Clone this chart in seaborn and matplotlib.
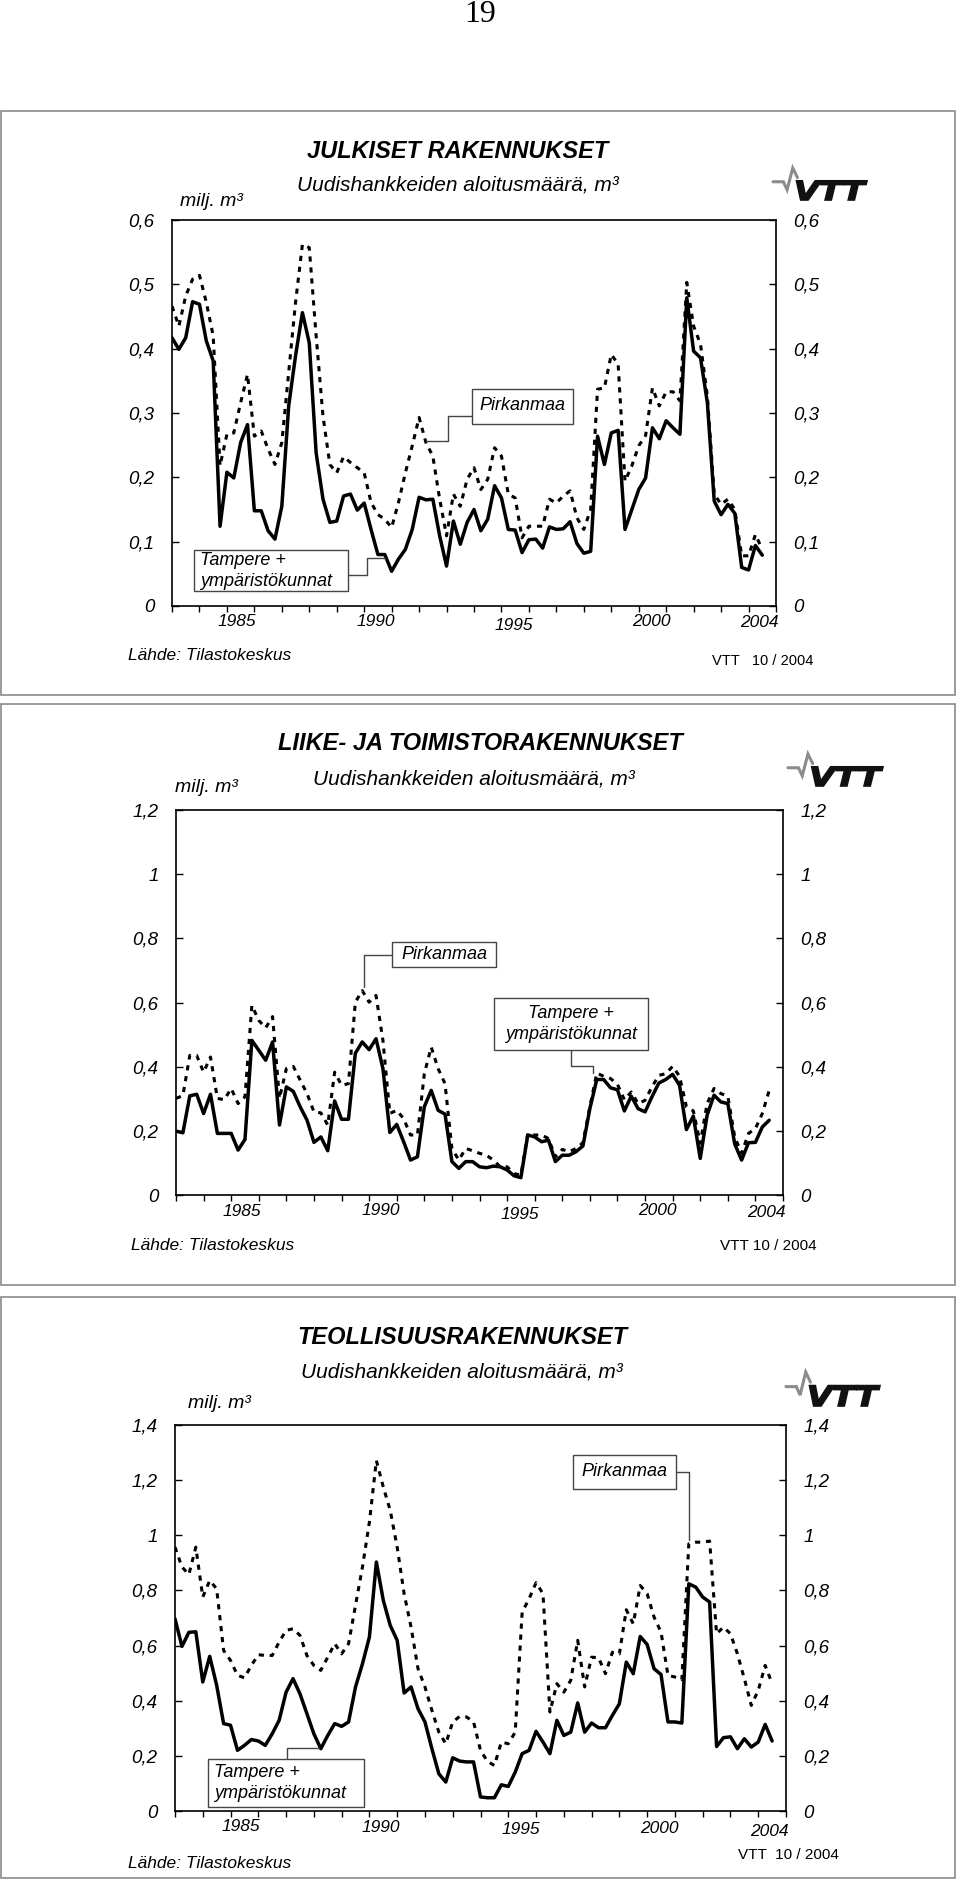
import numpy as np
import pandas as pd
import matplotlib
matplotlib.use('Agg')
import matplotlib.pyplot as plt
import seaborn as sns
from matplotlib.patches import Rectangle, PathPatch
from matplotlib.lines import Line2D
from matplotlib.textpath import TextPath
from matplotlib.font_manager import FontProperties
from matplotlib.transforms import Affine2D, ScaledTranslation

# quarterly starts, 1983 Q1 ... 2004 Q3, million m3 (4-quarter sums)
QUARTERS = list(range(87))
YEAR_LABELS = ['1985', '1990', '1995', '2000', '2004']
YEAR_LABEL_POS = [9.5, 29.7, 49.8, 69.8, 85.6]

julk_tampere = [0.417, 0.399, 0.417, 0.473, 0.469, 0.412, 0.381, 0.124, 0.208, 0.199,
                0.254, 0.282, 0.148, 0.148, 0.117, 0.104, 0.155, 0.311, 0.389, 0.456,
                0.409, 0.238, 0.166, 0.130, 0.132, 0.171, 0.174, 0.149, 0.160, 0.119,
                0.080, 0.080, 0.054, 0.073, 0.088, 0.119, 0.169, 0.165, 0.166, 0.109,
                0.062, 0.132, 0.096, 0.130, 0.150, 0.117, 0.135, 0.187, 0.168, 0.119,
                0.118, 0.083, 0.103, 0.104, 0.090, 0.123, 0.119, 0.120, 0.131, 0.097,
                0.082, 0.085, 0.264, 0.220, 0.269, 0.273, 0.119, 0.150, 0.181, 0.199,
                0.277, 0.260, 0.288, 0.277, 0.267, 0.479, 0.396, 0.386, 0.316, 0.163,
                0.142, 0.158, 0.144, 0.060, 0.056, 0.094, 0.079]
julk_pirkanmaa = [0.466, 0.435, 0.482, 0.508, 0.514, 0.472, 0.420, 0.218, 0.267, 0.269,
                  0.316, 0.360, 0.264, 0.272, 0.244, 0.220, 0.254, 0.363, 0.472, 0.562,
                  0.557, 0.420, 0.295, 0.220, 0.207, 0.232, 0.223, 0.215, 0.207, 0.161,
                  0.142, 0.135, 0.122, 0.161, 0.207, 0.249, 0.293, 0.254, 0.233, 0.166,
                  0.109, 0.174, 0.155, 0.197, 0.215, 0.181, 0.197, 0.246, 0.233, 0.174,
                  0.168, 0.106, 0.124, 0.124, 0.124, 0.166, 0.160, 0.171, 0.179, 0.137,
                  0.119, 0.150, 0.337, 0.339, 0.391, 0.376, 0.194, 0.218, 0.249, 0.265,
                  0.339, 0.311, 0.333, 0.333, 0.319, 0.503, 0.435, 0.407, 0.326, 0.174,
                  0.158, 0.166, 0.150, 0.078, 0.078, 0.111, 0.088]

liike_tampere = [0.199, 0.194, 0.309, 0.314, 0.254, 0.314, 0.192, 0.192, 0.192, 0.140,
                 0.173, 0.482, 0.451, 0.420, 0.477, 0.218, 0.337, 0.323, 0.275, 0.233,
                 0.164, 0.181, 0.138, 0.293, 0.236, 0.236, 0.442, 0.477, 0.453, 0.487,
                 0.394, 0.195, 0.220, 0.166, 0.109, 0.119, 0.275, 0.326, 0.264, 0.252,
                 0.104, 0.083, 0.104, 0.104, 0.088, 0.085, 0.090, 0.088, 0.078, 0.060,
                 0.054, 0.187, 0.181, 0.166, 0.171, 0.104, 0.124, 0.124, 0.135, 0.153,
                 0.269, 0.360, 0.360, 0.334, 0.328, 0.262, 0.308, 0.269, 0.259, 0.306,
                 0.349, 0.360, 0.376, 0.342, 0.204, 0.246, 0.114, 0.249, 0.311, 0.290,
                 0.285, 0.159, 0.109, 0.163, 0.164, 0.212, 0.233]
liike_pirkanmaa = [0.301, 0.310, 0.435, 0.435, 0.383, 0.430, 0.301, 0.297, 0.332, 0.285,
                   0.306, 0.591, 0.544, 0.521, 0.556, 0.301, 0.394, 0.401, 0.358, 0.316,
                   0.259, 0.256, 0.218, 0.383, 0.342, 0.347, 0.601, 0.637, 0.601, 0.622,
                   0.482, 0.254, 0.264, 0.238, 0.187, 0.187, 0.378, 0.461, 0.394, 0.347,
                   0.145, 0.109, 0.145, 0.138, 0.130, 0.124, 0.109, 0.088, 0.088, 0.067,
                   0.062, 0.192, 0.187, 0.187, 0.176, 0.119, 0.142, 0.135, 0.145, 0.163,
                   0.275, 0.380, 0.370, 0.363, 0.345, 0.297, 0.321, 0.285, 0.295, 0.337,
                   0.373, 0.378, 0.401, 0.370, 0.275, 0.262, 0.161, 0.285, 0.332, 0.316,
                   0.308, 0.181, 0.130, 0.192, 0.207, 0.254, 0.326]

teol_tampere = [0.697, 0.597, 0.648, 0.650, 0.468, 0.561, 0.456, 0.317, 0.311, 0.220,
                0.238, 0.259, 0.254, 0.238, 0.280, 0.329, 0.431, 0.480, 0.425, 0.353,
                0.280, 0.226, 0.274, 0.317, 0.307, 0.323, 0.450, 0.534, 0.631, 0.903,
                0.764, 0.673, 0.619, 0.428, 0.450, 0.371, 0.323, 0.226, 0.135, 0.105,
                0.193, 0.181, 0.178, 0.178, 0.051, 0.048, 0.048, 0.095, 0.089, 0.141,
                0.208, 0.220, 0.289, 0.250, 0.208, 0.329, 0.274, 0.286, 0.392, 0.286,
                0.319, 0.302, 0.302, 0.347, 0.389, 0.540, 0.498, 0.633, 0.604, 0.516,
                0.495, 0.323, 0.323, 0.319, 0.824, 0.812, 0.776, 0.758, 0.234, 0.266,
                0.269, 0.226, 0.262, 0.232, 0.250, 0.314, 0.254]
teol_pirkanmaa = [0.957, 0.885, 0.858, 0.957, 0.776, 0.836, 0.806, 0.582, 0.546, 0.492,
                  0.483, 0.528, 0.567, 0.564, 0.564, 0.613, 0.655, 0.661, 0.637, 0.564,
                  0.528, 0.510, 0.558, 0.607, 0.570, 0.607, 0.746, 0.885, 1.048, 1.271,
                  1.175, 1.090, 0.957, 0.788, 0.667, 0.516, 0.450, 0.365, 0.286, 0.244,
                  0.323, 0.343, 0.341, 0.323, 0.220, 0.180, 0.165, 0.250, 0.244, 0.286,
                  0.721, 0.770, 0.828, 0.788, 0.359, 0.462, 0.431, 0.474, 0.619, 0.450,
                  0.558, 0.556, 0.498, 0.576, 0.570, 0.730, 0.679, 0.818, 0.788, 0.703,
                  0.649, 0.492, 0.486, 0.476, 0.969, 0.975, 0.975, 0.979, 0.643, 0.667,
                  0.643, 0.570, 0.480, 0.383, 0.437, 0.528, 0.462]

W, H = 960, 1882

sns.set_style('white')
plt.rcParams['font.family'] = ['Liberation Sans', 'DejaVu Sans']
plt.rcParams['font.style'] = 'italic'
plt.rcParams['text.color'] = 'black'
plt.rcParams['xtick.color'] = 'black'
plt.rcParams['ytick.color'] = 'black'
plt.rcParams['axes.edgecolor'] = 'black'

fig = plt.figure(figsize=(W / 100, H / 100), dpi=100)


def fx(x):
    return x / W


def fy(y):
    return 1 - y / H


def page_text(x, y, s, **kw):
    fig.text(fx(x), fy(y), s, **kw)


def page_line(pts, **kw):
    fig.add_artist(Line2D([fx(p[0]) for p in pts], [fy(p[1]) for p in pts],
                          transform=fig.transFigure, **kw))


def page_box(x0, y0, x1, y1, **kw):
    fig.add_artist(Rectangle((fx(x0), fy(y1)), fx(x1) - fx(x0), fy(y0) - fy(y1),
                             transform=fig.transFigure, **kw))


def vtt_logo(x0, y0, x1, y1):
    w, h = x1 - x0, y1 - y0
    pulse = [(x0, y0 + 0.43 * h), (x0 + 0.11 * w, y0 + 0.43 * h), (x0 + 0.15 * w, y0 + 0.68 * h),
             (x0 + 0.21 * w, y0), (x0 + 0.26 * w, y0 + 0.30 * h)]
    page_line(pulse, color='#8c8c8c', lw=2.2, solid_joinstyle='miter')
    tp = TextPath((0, 0), 'VTT', prop=FontProperties(family='DejaVu Sans', weight='bold', style='italic'))
    bb = tp.get_extents()
    lx0, lx1, ly0, ly1 = x0 + 0.25 * w, x1, y0 + 0.40 * h, y1
    tr = (Affine2D().translate(-bb.x0, -bb.y0)
          .scale((lx1 - lx0) / bb.width / W, (ly1 - ly0) / bb.height / H)
          .translate(fx(lx0), fy(ly1)) + fig.transFigure)
    fig.add_artist(PathPatch(tp, transform=tr, fc='#111111', ec='#111111', lw=1.2))


def fmt(v):
    return '0' if v == 0 else ('%g' % v).replace('.', ',')


def make_panel(box, ymax, ystep, solid, dashed, label_dy):
    x0, y0, x1, y1 = box
    ax = fig.add_axes([fx(x0), fy(y1), fx(x1) - fx(x0), fy(y0) - fy(y1)])
    sns.lineplot(x=QUARTERS, y=dashed, ax=ax, color='black', lw=2.2,
                 linestyle=(0, (1.7, 1.9)))
    sns.lineplot(x=QUARTERS, y=solid, ax=ax, color='black', lw=2.5)
    ax.set_xlim(0, 88)
    ax.set_ylim(0, ymax)
    ax.set_xlabel('')
    ax.set_ylabel('')
    for s in ax.spines.values():
        s.set_visible(True)
        s.set_linewidth(1.2)
        s.set_color('black')
    yt = np.round(np.arange(0, ymax + ystep / 2, ystep), 2)
    ax.set_yticks(yt, [fmt(v) for v in yt])
    ax.tick_params(axis='y', which='major', direction='in', length=5, width=1,
                   left=True, right=True, labelleft=True, labelright=True,
                   pad=12.5, labelsize=13.5)
    ax.set_xticks(range(0, 89, 4))
    ax.set_xticks(YEAR_LABEL_POS, YEAR_LABELS, minor=True)
    ax.tick_params(axis='x', which='major', direction='out', length=4, width=1,
                   bottom=True, labelbottom=False)
    ax.tick_params(axis='x', which='minor', length=0, pad=5.5, labelsize=12.5)
    for lab, dy in zip(ax.get_xticklabels(minor=True), label_dy):
        lab.set_transform(lab.get_transform() + ScaledTranslation(0, -dy / 100, fig.dpi_scale_trans))
    return ax


# page number
page_text(480, 15, '19', family='Liberation Serif', style='normal', fontsize=23,
          ha='center', va='center')

# panel frames
for top, bot in [(111, 695), (704, 1285), (1297, 1878)]:
    page_box(1, top, 955, bot, fill=False, ec='#8a8a8a', lw=1.2)

ann_kw = dict(fill=True, fc='white', ec='#444444', lw=1.0, zorder=5)
con_kw = dict(color='#444444', lw=1.0, zorder=5)
box_txt = dict(fontsize=13, va='center', zorder=6, linespacing=1.35)

# ---- panel 1 ----
make_panel((172, 220, 776, 606), 0.6, 0.1, julk_tampere, julk_pirkanmaa, [0, 0, 4, 0, 1])
page_text(458, 151, 'JULKISET RAKENNUKSET', fontsize=17, weight='bold', ha='center', va='center')
page_text(458, 185, 'Uudishankkeiden aloitusmäärä, m³', fontsize=15, ha='center', va='center')
page_text(180, 202, 'milj. m³', fontsize=14, ha='left', va='center')
vtt_logo(773, 168, 867, 200)
page_text(128, 655, 'Lähde: Tilastokeskus', fontsize=12.5, ha='left', va='center')
page_text(712, 661, 'VTT   10 / 2004', fontsize=10.5, style='normal', ha='left', va='center')
page_line([(426, 441), (448, 441), (448, 416), (472, 416)], **con_kw)
page_box(472, 389, 573, 424, **ann_kw)
page_text(522, 406, 'Pirkanmaa', ha='center', **box_txt)
page_line([(348, 575), (367, 575), (367, 558), (385, 558)], **con_kw)
page_box(194, 550, 348, 591, **ann_kw)
page_text(200, 571, 'Tampere +\nympäristökunnat', ha='left', multialignment='left', **box_txt)

# ---- panel 2 ----
make_panel((176, 810, 783, 1195), 1.2, 0.2, liike_tampere, liike_pirkanmaa, [1, 0, 4, 0, 2])
page_text(480, 744, 'LIIKE- JA TOIMISTORAKENNUKSET', fontsize=17, weight='bold', ha='center', va='center')
page_text(474, 779, 'Uudishankkeiden aloitusmäärä, m³', fontsize=15, ha='center', va='center')
page_text(175, 788, 'milj. m³', fontsize=14, ha='left', va='center')
vtt_logo(788, 754, 883, 786)
page_text(131, 1246, 'Lähde: Tilastokeskus', fontsize=12.5, ha='left', va='center')
page_text(720, 1246, 'VTT 10 / 2004', fontsize=11, style='normal', ha='left', va='center')
page_line([(364, 987), (364, 955), (392, 955)], **con_kw)
page_box(392, 942, 496, 967, **ann_kw)
page_text(444, 955, 'Pirkanmaa', ha='center', **box_txt)
page_line([(571, 1050), (571, 1066), (593, 1066), (593, 1073)], **con_kw)
page_box(494, 998, 648, 1050, **ann_kw)
page_text(571, 1024, 'Tampere +\nympäristökunnat', ha='center', multialignment='center', **box_txt)

# ---- panel 3 ----
make_panel((175, 1425, 786, 1811), 1.4, 0.2, teol_tampere, teol_pirkanmaa, [0, 1.5, 3.5, 2.7, 5.4])
page_text(462, 1337, 'TEOLLISUUSRAKENNUKSET', fontsize=17, weight='bold', ha='center', va='center')
page_text(462, 1372, 'Uudishankkeiden aloitusmäärä, m³', fontsize=15, ha='center', va='center')
page_text(188, 1404, 'milj. m³', fontsize=14, ha='left', va='center')
vtt_logo(786, 1372, 880, 1406)
page_text(128, 1864, 'Lähde: Tilastokeskus', fontsize=12.5, ha='left', va='center')
page_text(738, 1855, 'VTT  10 / 2004', fontsize=11, style='normal', ha='left', va='center')
page_line([(676, 1472), (689, 1472), (689, 1540)], **con_kw)
page_box(573, 1455, 676, 1489, **ann_kw)
page_text(624, 1472, 'Pirkanmaa', ha='center', **box_txt)
page_line([(287, 1759), (287, 1748), (319, 1748)], **con_kw)
page_box(208, 1759, 364, 1807, **ann_kw)
page_text(214, 1783, 'Tampere +\nympäristökunnat', ha='left', multialignment='left', **box_txt)

fig.savefig('out.png', dpi=100)
